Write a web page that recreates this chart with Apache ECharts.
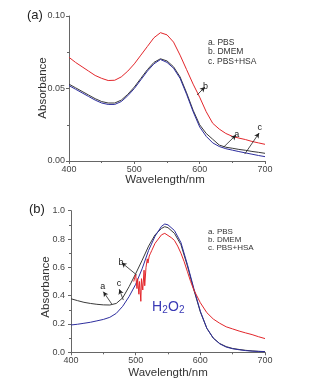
<!DOCTYPE html>
<html><head><meta charset="utf-8">
<script src="https://cdn.jsdelivr.net/npm/echarts@6/dist/echarts.min.js"></script>
<style>html,body{margin:0;padding:0;background:#fff}#c{width:312px;height:388px}</style>
</head><body><div id="c"></div>
<script>
// ---- Panel (a) data ----
const wlA = [400,410,420,430,440,450,460,470,480,490,500,510,520,530,540,550,560,570,580,590,600,610,620,630,640,650,660,670,680,690,700];
const a_PBS  = [0.053,0.0505,0.048,0.0455,0.043,0.041,0.040,0.040,0.042,0.046,0.051,0.057,0.063,0.068,0.0705,0.069,0.065,0.058,0.047,0.035,0.025,0.019,0.015,0.011,0.0095,0.0088,0.008,0.0074,0.0066,0.006,0.0053];
const a_DMEM = [0.0715,0.068,0.065,0.062,0.059,0.057,0.0555,0.0557,0.058,0.062,0.067,0.073,0.079,0.085,0.0885,0.087,0.082,0.073,0.063,0.053,0.044,0.034,0.026,0.022,0.019,0.017,0.0158,0.0148,0.0135,0.0125,0.0115];
const a_HSA  = [0.052,0.0495,0.047,0.0445,0.042,0.040,0.039,0.039,0.041,0.045,0.050,0.056,0.062,0.067,0.070,0.068,0.064,0.057,0.046,0.034,0.0235,0.017,0.0125,0.010,0.0085,0.0075,0.0065,0.0056,0.0047,0.0038,0.003];
// ---- Panel (b) data ----
const wlB = [400,410,420,430,440,450,460,470,480,490,500,510,520,530,540,545,550,560,570,580,590,600,610,620,630,640,650,660,670,680,690,700];
const b_PBS = [0.378,0.365,0.353,0.345,0.339,0.335,0.334,0.345,0.385,0.465,0.555,0.65,0.75,0.83,0.875,0.887,0.88,0.84,0.76,0.61,0.44,0.285,0.17,0.10,0.062,0.04,0.027,0.02,0.014,0.01,0.007,0.005];
const b_HSA = [0.193,0.198,0.205,0.212,0.222,0.232,0.247,0.275,0.325,0.395,0.48,0.59,0.72,0.82,0.89,0.906,0.90,0.86,0.775,0.62,0.45,0.29,0.17,0.10,0.06,0.037,0.025,0.018,0.012,0.008,0.006,0.004];
const wlR = [497,500,502,503,505,506,508,509,511,513,514,516,518,519,521,523,525,530,535,540,545,550,555,560,565,570,575,580,585,590,600,610,620,630,640,650,660,670,680,690,700];
const b_DMEM = [0.50,0.55,0.45,0.52,0.41,0.50,0.36,0.52,0.44,0.58,0.47,0.60,0.66,0.63,0.68,0.70,0.72,0.77,0.80,0.83,0.84,0.825,0.81,0.79,0.75,0.70,0.64,0.57,0.50,0.44,0.35,0.28,0.235,0.205,0.18,0.165,0.15,0.137,0.125,0.11,0.097];
const xTicks = [400,500,600,700];
const legendLabels = ['a. PBS','b. DMEM','c. PBS+HSA'];

const RED='#e3262b', BLK='#3a3a3a', BLU='#2e2e9e';
const FONT='"Liberation Sans", Arial, sans-serif';
const zip=(xs,ys)=>xs.map((x,i)=>[x,ys[i]]);

function xAx(gi){return {type:'value',gridIndex:gi,min:400,max:700,interval:100,
  axisLine:{show:true,lineStyle:{color:'#666',width:1}},
  axisTick:{show:true,inside:false,length:3,lineStyle:{color:'#666'}},
  minorTick:{show:true,splitNumber:2,length:2,lineStyle:{color:'#666'}},
  splitLine:{show:false},
  axisLabel:{color:'#444',fontSize:9,fontFamily:FONT,margin:4}};}
function yAx(gi,max,iv,dec,margin){return {type:'value',gridIndex:gi,min:0,max:max,interval:iv,
  axisLine:{show:true,lineStyle:{color:'#666',width:1}},
  axisTick:{show:true,inside:false,length:3,lineStyle:{color:'#666'}},
  minorTick:{show:true,splitNumber:2,length:2,lineStyle:{color:'#666'}},
  splitLine:{show:false},
  axisLabel:{color:'#444',fontSize:9,fontFamily:FONT,margin:margin,formatter:v=>v.toFixed(dec)}};}

function ln(name,gi,data,color,marks){
  const s={name,type:'line',xAxisIndex:gi,yAxisIndex:gi,data,showSymbol:false,symbol:'none',
    lineStyle:{color,width:1},itemStyle:{color},animation:false,z:3};
  if(marks){s.markLine={silent:true,symbol:['none','arrow'],symbolSize:[4,5],animation:false,
    lineStyle:{color:'#222',width:0.8,type:'solid'},
    label:{show:true,position:'end',formatter:p=>p.name,color:'#222',fontSize:9,fontFamily:FONT,distance:1},
    data:marks};}
  return s;
}
function mk(name,x1,y1,x2,y2){return [{name,coord:[x1,y1]},{coord:[x2,y2]}];}

const chart=echarts.init(document.getElementById('c'),null,{renderer:'canvas'});
function legendTexts(x,y0,dy,fs){return legendLabels.map((t,i)=>({type:'text',left:x,top:y0+i*dy,
  style:{text:t,fontSize:fs,fontFamily:FONT,fill:'#333'}}));}
chart.setOption({
  backgroundColor:'#fff',
  animation:false,
  grid:[{left:69,top:16,width:196,height:145},{left:71,top:210.7,width:194,height:141.6}],
  xAxis:[xAx(0),xAx(1)],
  yAxis:[yAx(0,0.10,0.05,2,4),yAx(1,1.0,0.2,1,6)],
  series:[
    ln('DMEM',0,zip(wlA,a_DMEM),RED,[mk('b',596,0.0455,608,0.051)]),
    ln('PBS',0,zip(wlA,a_PBS),BLK,[mk('a',637,0.0097,655.6,0.0179)]),
    ln('PBS+HSA',0,zip(wlA,a_HSA),BLU,[mk('c',669,0.0048,691,0.0193)]),
    ln('PBS b',1,zip(wlB,b_PBS),BLK,[mk('a',463,0.341,450,0.428),mk('c',480.9,0.369,474.7,0.445)]),
    ln('HSA b',1,zip(wlB,b_HSA),BLU),
    ln('DMEM b',1,zip(wlR,b_DMEM),RED,[mk('b',501.6,0.546,478.4,0.633)])
  ],
  graphic:[
    {type:'text',left:27,top:9,style:{text:'(a)',fontSize:13,fontFamily:FONT,fill:'#222'}},
    {type:'text',left:29,top:203,style:{text:'(b)',fontSize:13,fontFamily:FONT,fill:'#222'}},
    ...legendTexts(208,38,9.6,8.5),
    ...legendTexts(208,227.5,8.3,8),
    {type:'text',x:43,y:88,rotation:Math.PI/2,style:{text:'Absorbance',fontSize:11.5,fontFamily:FONT,fill:'#333',align:'center',verticalAlign:'middle'}},
    {type:'text',x:46,y:287,rotation:Math.PI/2,style:{text:'Absorbance',fontSize:11.5,fontFamily:FONT,fill:'#333',align:'center',verticalAlign:'middle'}},
    {type:'text',x:165,y:180,style:{text:'Wavelength/nm',fontSize:11.5,fontFamily:FONT,fill:'#333',align:'center',verticalAlign:'middle'}},
    {type:'text',x:168,y:372.5,style:{text:'Wavelength/nm',fontSize:11.5,fontFamily:FONT,fill:'#333',align:'center',verticalAlign:'middle'}},
    {type:'group',left:152,top:300,children:[
      {type:'text',x:0,y:0,style:{text:'H',fontSize:14,fontFamily:FONT,fill:'#3a3ab5'}},
      {type:'text',x:10.2,y:5,style:{text:'2',fontSize:10,fontFamily:FONT,fill:'#3a3ab5'}},
      {type:'text',x:16,y:0,style:{text:'O',fontSize:14,fontFamily:FONT,fill:'#3a3ab5'}},
      {type:'text',x:27,y:5,style:{text:'2',fontSize:10,fontFamily:FONT,fill:'#3a3ab5'}}
    ]}
  ]
});
</script></body></html>
